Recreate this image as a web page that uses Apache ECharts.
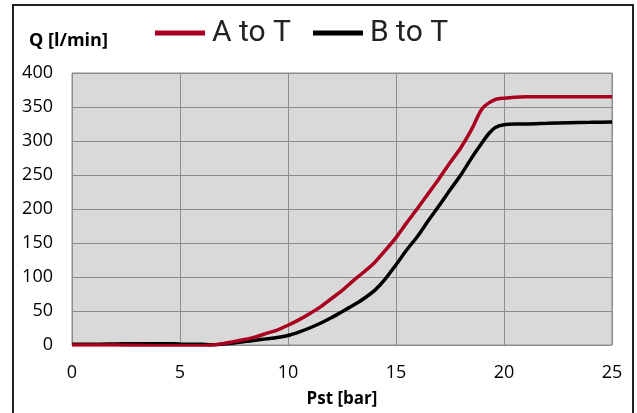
<!DOCTYPE html>
<html><head><meta charset="utf-8">
<script src="https://cdn.jsdelivr.net/npm/echarts@6/dist/echarts.min.js"></script>
<style>html,body{margin:0;padding:0;background:#fff}#c{width:637px;height:413px}</style>
</head><body><div id="c"></div>
<script>
const xTicks = [0, 5, 10, 15, 20, 25];
const yTicks = [0, 50, 100, 150, 200, 250, 300, 350, 400];
const seriesNames = ['A to T', 'B to T'];
const aToT_x = [0,1,2,3,4,5,6,6.5,7,7.5,8,8.5,9,9.5,10,10.5,11,11.5,12,12.5,13,13.5,14,14.5,15,15.5,16,16.5,17,17.5,18,18.5,18.8,19,19.3,19.6,20,20.5,21,22,23,24,25];
const aToT_y = [0,0,0,-0.5,-1,-1,-1,0,2,5,8,12,17,22,29,37,46,56,68,80,94,107,121,139,158,180,201,223,245,268,290,317,337,348,356,361,363,364.5,365,365,365,365,365];
const bToT_x = [0,1,2,3,4,5,6,6.5,7,7.5,8,8.5,9,9.5,10,10.5,11,11.5,12,12.5,13,13.5,14,14.5,15,15.5,16,16.5,17,17.5,18,18.5,19,19.3,19.6,20,20.5,21,22,23,24,25];
const bToT_y = [1,1,1.5,2,2,1.5,1,0.5,1.5,3,5,7,9,11,14,19,25,32,40,49,58,68,80,97,118,140,160,183,205,228,250,275,298,311,320,324,325,325,326,327,327.5,328];

const zip = (xs, ys) => xs.map((x, i) => [x, ys[i]]);
const chart = echarts.init(document.getElementById('c'));
chart.setOption({
  animation: false,
  backgroundColor: '#fff',
  grid: { left: 72, right: 25, top: 73, bottom: 63.5, show: true, backgroundColor: '#d9d9d9', borderColor: '#8c8c8c', borderWidth: 1 },
  legend: {
    top: 13, left: 150, itemWidth: 50, itemHeight: 5, itemGap: 22,
    icon: 'rect',
    textStyle: { fontFamily: 'Roboto, sans-serif', fontSize: 30, color: '#222', padding: [0, 0, 0, 2] },
    data: seriesNames
  },
  graphic: [
    { type: 'rect', shape: { x: 13, y: 5, width: 620, height: 430 }, style: { fill: 'none', stroke: '#222', lineWidth: 2 }, silent: true },
    { type: 'text', left: 29, top: 32, style: { text: 'Q [l/min]', font: 'bold 18px "Open Sans", sans-serif', fill: '#000' } }
  ],
  xAxis: {
    type: 'value', min: 0, max: 25, interval: 5,
    name: 'Pst [bar]', nameLocation: 'middle', nameGap: 46,
    nameTextStyle: { fontFamily: 'Open Sans', fontWeight: 'bold', fontSize: 17, color: '#000' },
    axisLine: { show: false }, axisTick: { show: false },
    axisLabel: { margin: 19, fontFamily: 'Open Sans', fontSize: 18, color: '#000' },
    splitLine: { show: true, lineStyle: { color: '#8c8c8c', width: 1 } }
  },
  yAxis: {
    type: 'value', min: 0, max: 400, interval: 50,
    axisLine: { show: false }, axisTick: { show: false },
    axisLabel: { margin: 19, fontFamily: 'Open Sans', fontSize: 18, color: '#000' },
    splitLine: { show: true, lineStyle: { color: '#8c8c8c', width: 1 } }
  },
  series: [
    { name: seriesNames[0], type: 'line', data: zip(aToT_x, aToT_y), smooth: 0.3, showSymbol: false, color: '#a8001e', lineStyle: { width: 3.5, color: '#a8001e' }, z: 3 },
    { name: seriesNames[1], type: 'line', data: zip(bToT_x, bToT_y), smooth: 0.3, showSymbol: false, color: '#000', lineStyle: { width: 3.5, color: '#000' }, z: 2 }
  ]
});
</script></body></html>
